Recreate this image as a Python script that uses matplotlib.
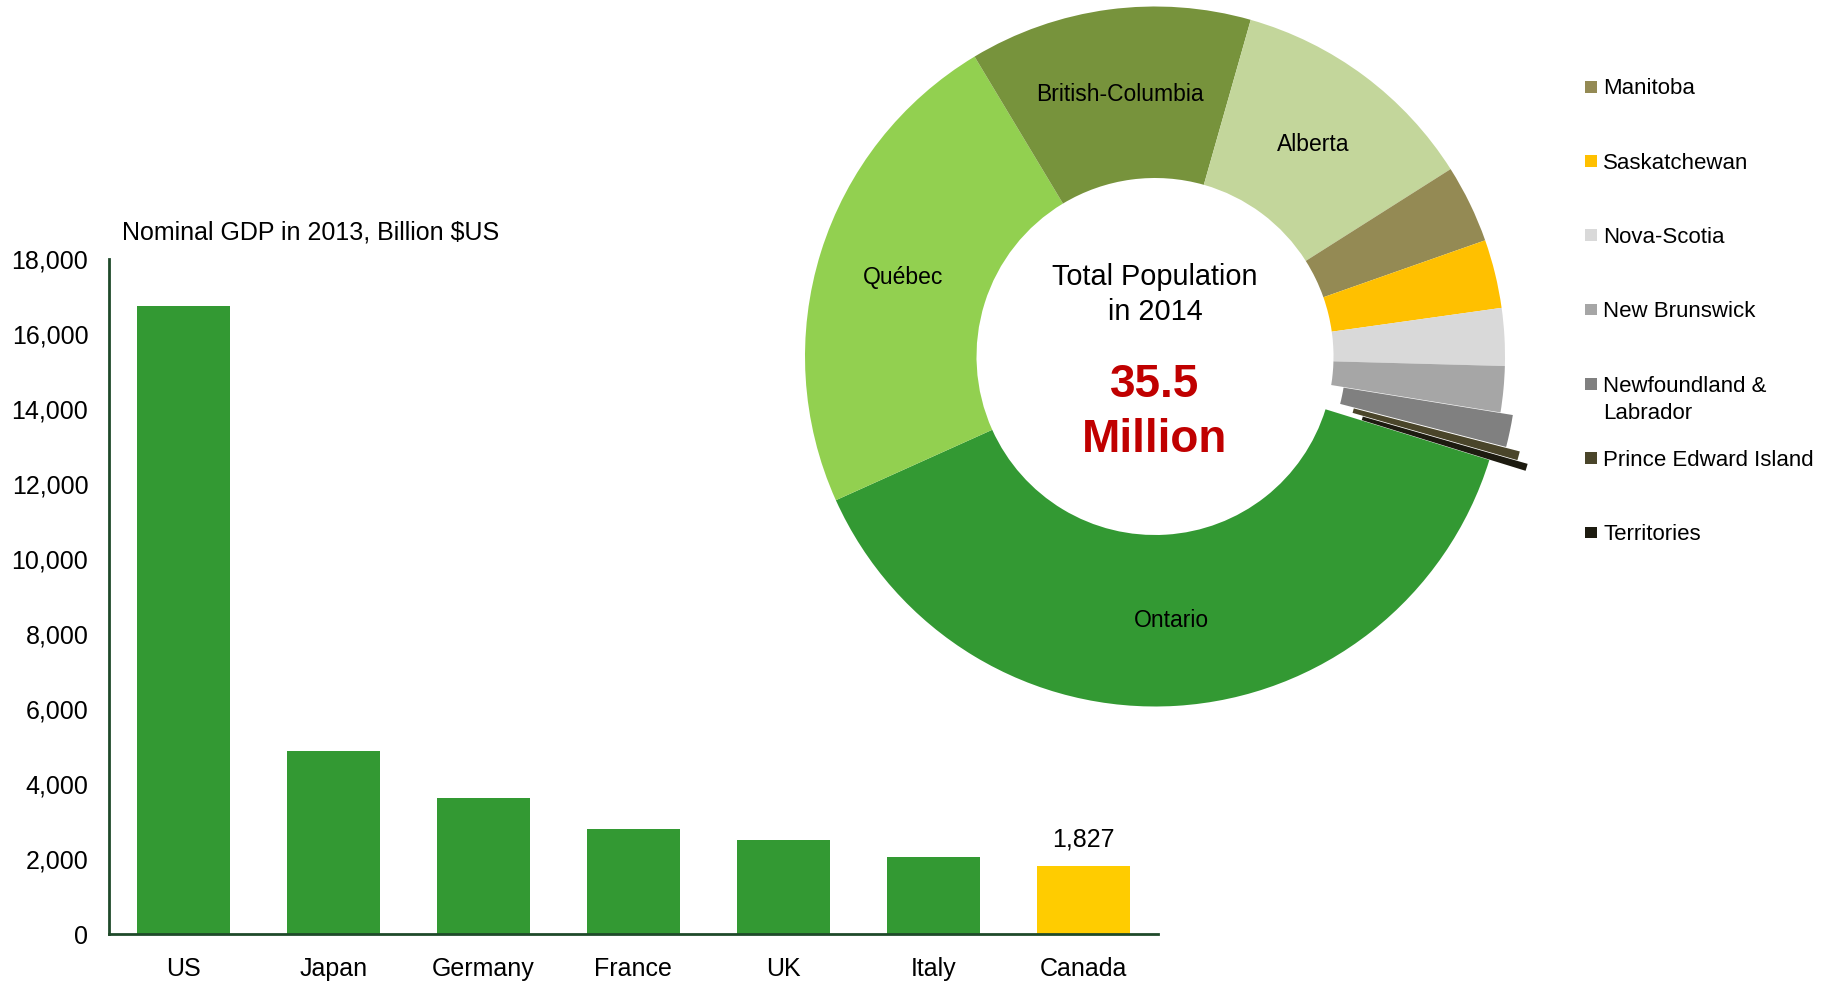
import matplotlib
matplotlib.use("Agg")
import matplotlib.pyplot as plt
from matplotlib.patches import Rectangle
import numpy as np

plt.rcParams['font.family'] = ['Liberation Sans', 'DejaVu Sans']

# Nominal GDP in 2013 (billion US$)
countries = ["US", "Japan", "Germany", "France", "UK", "Italy", "Canada"]
gdp_2013 = [16768, 4902, 3636, 2806, 2522, 2071, 1827]
gdp_ticks = [0, 2000, 4000, 6000, 8000, 10000, 12000, 14000, 16000, 18000]

# Canadian population by province in 2014 (millions)
provinces = ["Ontario", "Québec", "British-Columbia", "Alberta", "Manitoba",
             "Saskatchewan", "Nova-Scotia", "New Brunswick",
             "Newfoundland &\nLabrador", "Prince Edward Island", "Territories"]
population_2014 = [13.679, 8.215, 4.631, 4.122, 1.282, 1.125, 0.943, 0.754,
                   0.527, 0.146, 0.117]
province_colors = ["#339933", "#92D050", "#77933C", "#C3D69B", "#948A54",
                   "#FFC000", "#D9D9D9", "#A6A6A6", "#808080", "#4A452A",
                   "#1D1B10"]
explode = [0, 0, 0, 0, 0, 0, 0, 0, 0.036, 0.077, 0.108]
n_inner_labels = 4  # larger provinces are labelled on the ring

W, H = 1829, 983
fig = plt.figure(figsize=(W / 100, H / 100), dpi=100)

# ---- bar chart ---------------------------------------------------------
axis_green = "#1F4A2A"
ax = fig.add_axes([108.5 / W, 1 - 934.4 / H, (1158 - 108.5) / W, (934.4 - 259.3) / H])
x = np.arange(len(countries))
bar_colors = ["#339933"] * (len(countries) - 1) + ["#FFCC00"]
ax.bar(x, gdp_2013, width=0.62, color=bar_colors, zorder=2)
ax.set_xlim(-0.5, len(countries) - 0.5)
ax.set_ylim(0, 18000)
ax.set_yticks(gdp_ticks)
ax.set_yticklabels([f"{v:,}" for v in gdp_ticks], fontsize=18)
ax.set_xticks(x)
ax.set_xticklabels(countries, fontsize=18)
ax.tick_params(axis="y", length=0, pad=14.5)
ax.tick_params(axis="x", length=0, pad=16.5)
for side in ("top", "right"):
    ax.spines[side].set_visible(False)
for side in ("left", "bottom"):
    ax.spines[side].set_color(axis_green)
    ax.spines[side].set_linewidth(2.0)
ax.patch.set_alpha(0)

ax.annotate(f"{gdp_2013[-1]:,}", xy=(x[-1], gdp_2013[-1]), xytext=(0, 10),
            textcoords="offset points", ha="center", va="bottom", fontsize=18)

fig.text(122.5 / W, 1 - 232.5 / H, "Nominal GDP in 2013, Billion $US",
         fontsize=18, ha="left", va="center")

# ---- donut chart -------------------------------------------------------
R_px = 350.0
cx, cy = 1155.0, 356.5
half = 400.0
pax = fig.add_axes([(cx - half) / W, 1 - (cy + half) / H, 2 * half / W, 2 * half / H])
ring = 0.49
wedges, _ = pax.pie(population_2014, colors=province_colors, startangle=-17.2,
                    counterclock=False, radius=1, explode=explode,
                    wedgeprops=dict(width=ring, edgecolor="none", linewidth=0))
lim = half / R_px
pax.set_xlim(-lim, lim)
pax.set_ylim(-lim, lim)
pax.set_aspect("equal")
pax.axis("off")

r_lab = 1 - ring / 2
for w, name in zip(wedges[:n_inner_labels], provinces[:n_inner_labels]):
    ang = np.deg2rad((w.theta1 + w.theta2) / 2)
    pax.text(r_lab * np.cos(ang), r_lab * np.sin(ang), name,
             ha="center", va="center", fontsize=16.5)

total = sum(population_2014)
pax.text(0, 0.204, "Total Population", ha="center", va="baseline", fontsize=20.8)
pax.text(0, 0.104, "in 2014", ha="center", va="baseline", fontsize=20.8)
pax.text(0, -0.115, f"{total:.1f}", ha="center", va="baseline", fontsize=33,
         fontweight="bold", color="#C00000")
pax.text(0, -0.272, "Million", ha="center", va="baseline", fontsize=33,
         fontweight="bold", color="#C00000")

# ---- legend for the smaller provinces ----------------------------------
sq = 11.7
line_step = 27.5
for i, (name, col) in enumerate(zip(provinces[n_inner_labels:],
                                     province_colors[n_inner_labels:])):
    yc = 86.7 + 74.3 * i
    fig.add_artist(Rectangle((1585 / W, 1 - (yc + sq / 2) / H), sq / W, sq / H,
                             transform=fig.transFigure, facecolor=col,
                             edgecolor="none"))
    for k, line in enumerate(name.split("\n")):
        fig.text(1603.3 / W, 1 - (yc + 7.6 + k * line_step) / H, line,
                 ha="left", va="baseline", fontsize=16)

fig.savefig("out.png", dpi=100)
